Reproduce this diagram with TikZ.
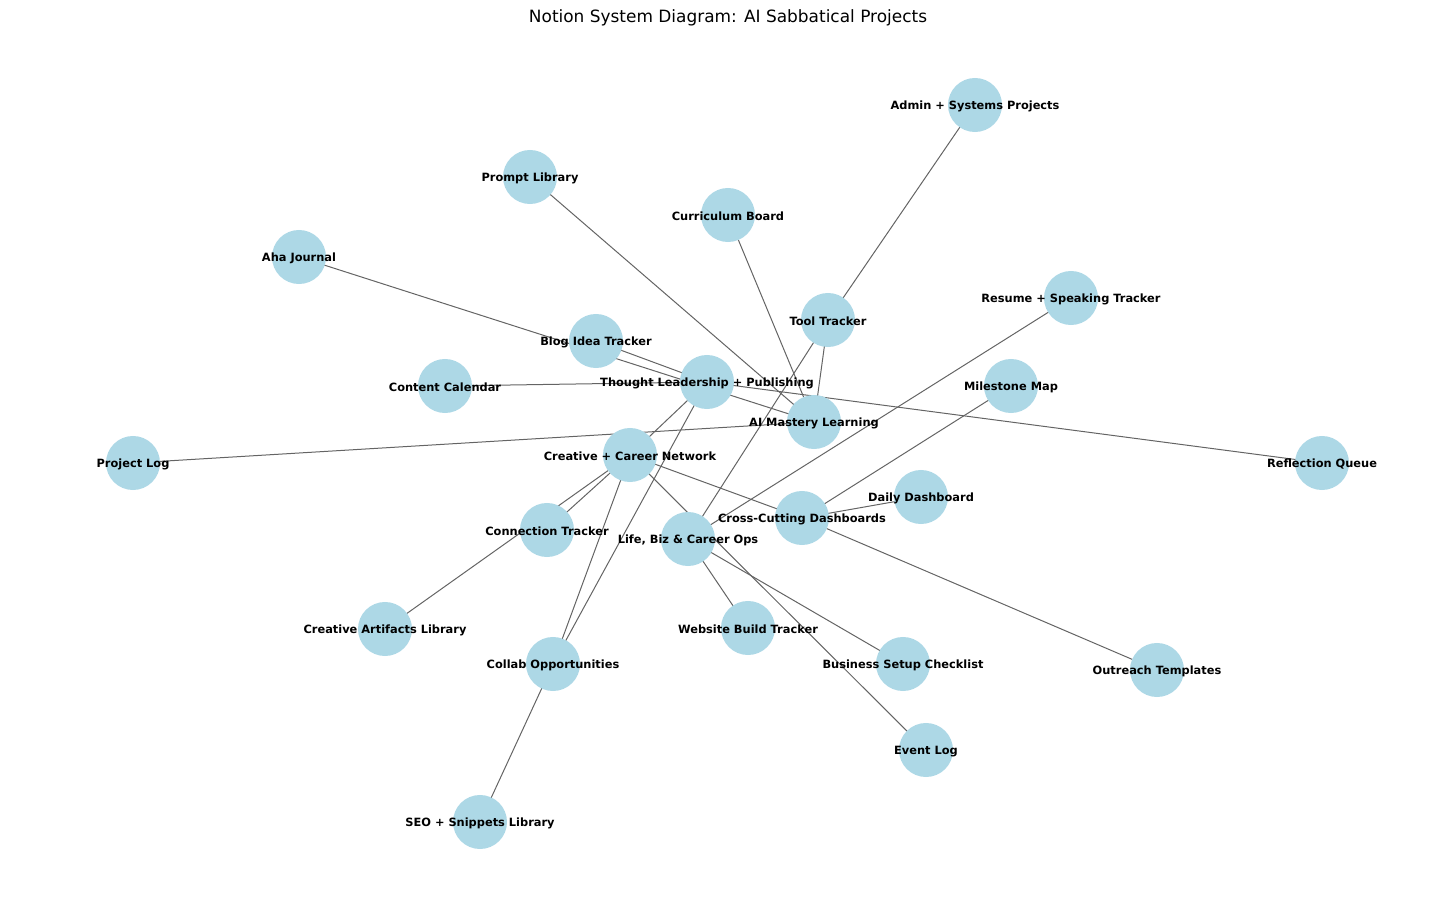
\documentclass[tikz,border=0pt]{standalone}
\usepackage{fontspec}
\setmainfont{DejaVu Sans}
\usetikzlibrary{backgrounds}
\definecolor{nodeblue}{HTML}{ADD8E6}
\definecolor{edgegray}{RGB}{100,100,100}
\tikzset{
  dot/.style={circle,fill=nodeblue,draw=none,minimum size=38.9pt,inner sep=0pt},
  lab/.style={font=\fontsize{8.2}{10}\selectfont\bfseries,inner sep=0pt,text=black,yshift=-0.9pt},
  edge/.style={draw=edgegray,line width=0.72pt},
}
\begin{document}
\begin{tikzpicture}[x=0.72pt,y=-0.72pt]
\useasboundingbox (0,0) rectangle (1456,906);
\node[font=\fontsize{12.2}{14}\selectfont] (title) at (728,17.5) {Notion System Diagram: AI Sabbatical Projects};
% nodes
\node[dot] (admin) at (975,105) {};
\node[dot] (prompt) at (530,177) {};
\node[dot] (curr) at (728,215) {};
\node[dot] (aha) at (299,257) {};
\node[dot] (tool) at (828,320) {};
\node[dot] (resume) at (1071,298) {};
\node[dot] (blog) at (596,341) {};
\node[dot] (content) at (445,386) {};
\node[dot] (tl) at (707,382) {};
\node[dot] (milestone) at (1011,386) {};
\node[dot] (ai) at (814,422) {};
\node[dot] (plog) at (133,463) {};
\node[dot] (creative) at (630,455) {};
\node[dot] (reflect) at (1322,463) {};
\node[dot] (daily) at (921,497) {};
\node[dot] (cross) at (802,518) {};
\node[dot] (conn) at (547,530) {};
\node[dot] (life) at (688,539) {};
\node[dot] (artifacts) at (385,629) {};
\node[dot] (website) at (748,628) {};
\node[dot] (collab) at (553,664) {};
\node[dot] (business) at (903,664) {};
\node[dot] (outreach) at (1157,670) {};
\node[dot] (event) at (926,750) {};
\node[dot] (seo) at (480,822) {};
% edges
\begin{pgfonlayer}{background}
\draw[edge] (admin.center) -- (tool.center);
\draw[edge] (prompt.center) -- (ai.center);
\draw[edge] (curr.center) -- (ai.center);
\draw[edge] (aha.center) -- (ai.center);
\draw[edge] (tool.center) -- (ai.center);
\draw[edge] (tool.center) -- (life.center);
\draw[edge] (resume.center) -- (life.center);
\draw[edge] (blog.center) -- (tl.center);
\draw[edge] (content.center) -- (tl.center);
\draw[edge] (tl.center) -- (reflect.center);
\draw[edge] (plog.center) -- (ai.center);
\draw[edge] (tl.center) -- (creative.center);
\draw[edge] (tl.center) -- (collab.center);
\draw[edge] (creative.center) -- (conn.center);
\draw[edge] (creative.center) -- (artifacts.center);
\draw[edge] (creative.center) -- (collab.center);
\draw[edge] (creative.center) -- (cross.center);
\draw[edge] (creative.center) -- (event.center);
\draw[edge] (life.center) -- (website.center);
\draw[edge] (life.center) -- (business.center);
\draw[edge] (cross.center) -- (milestone.center);
\draw[edge] (cross.center) -- (daily.center);
\draw[edge] (cross.center) -- (outreach.center);
\draw[edge] (collab.center) -- (seo.center);
\end{pgfonlayer}
% labels
\node[lab] at (admin) {Admin + Systems Projects};
\node[lab] at (prompt) {Prompt Library};
\node[lab] at (curr) {Curriculum Board};
\node[lab] at (aha) {Aha Journal};
\node[lab] at (tool) {Tool Tracker};
\node[lab] at (resume) {Resume + Speaking Tracker};
\node[lab] at (blog) {Blog Idea Tracker};
\node[lab] at (content) {Content Calendar};
\node[lab] at (tl) {Thought Leadership + Publishing};
\node[lab] at (milestone) {Milestone Map};
\node[lab] at (ai) {AI Mastery Learning};
\node[lab] at (plog) {Project Log};
\node[lab] at (creative) {Creative + Career Network};
\node[lab] at (reflect) {Reflection Queue};
\node[lab] at (daily) {Daily Dashboard};
\node[lab] at (cross) {Cross-Cutting Dashboards};
\node[lab] at (conn) {Connection Tracker};
\node[lab] at (life) {Life, Biz \& Career Ops};
\node[lab] at (artifacts) {Creative Artifacts Library};
\node[lab] at (website) {Website Build Tracker};
\node[lab] at (collab) {Collab Opportunities};
\node[lab] at (business) {Business Setup Checklist};
\node[lab] at (outreach) {Outreach Templates};
\node[lab] at (event) {Event Log};
\node[lab] at (seo) {SEO + Snippets Library};
\end{tikzpicture}
\end{document}
